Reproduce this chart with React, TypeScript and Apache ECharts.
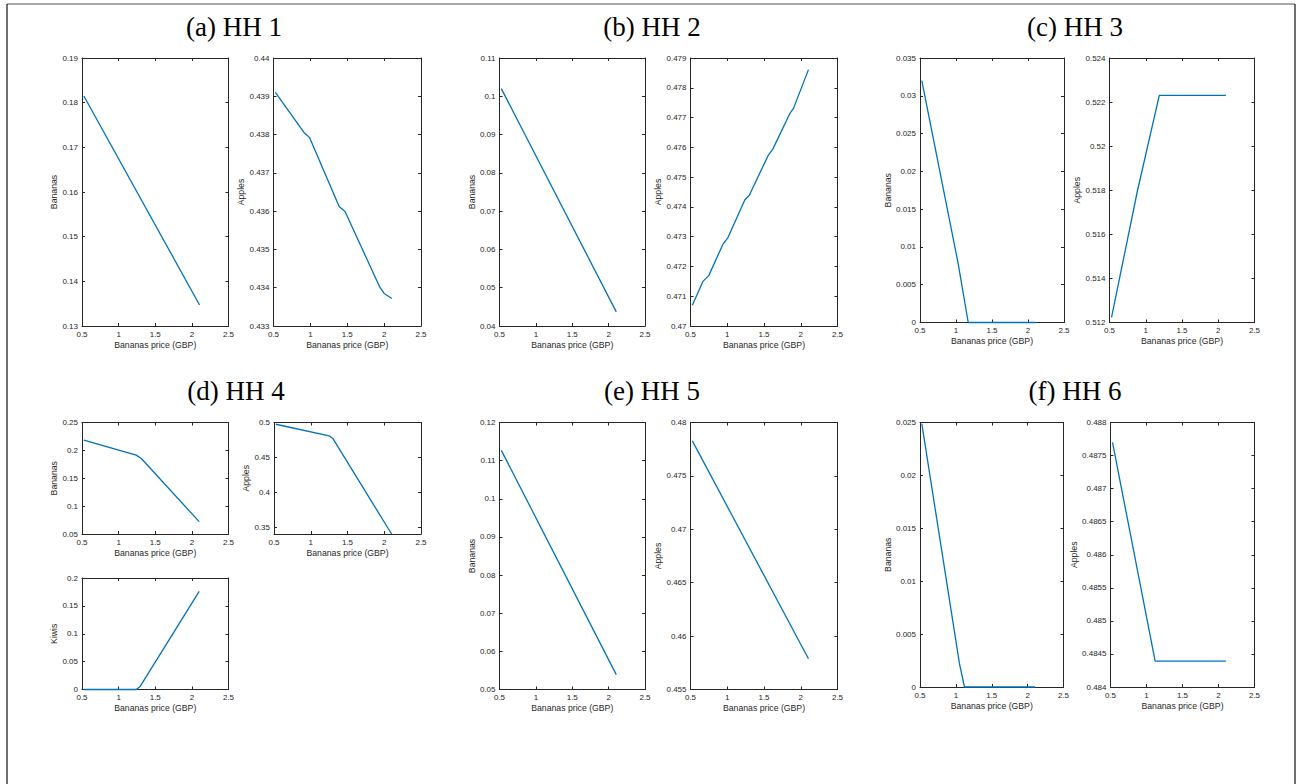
import React, { useEffect, useRef } from "react";
import * as echarts from "echarts";

// ---------- data ----------
const PRICE_TICKS = [0.5, 1, 1.5, 2, 2.5];
const X_LABEL = "Bananas price (GBP)";

// HH 1
const hh1BananasPrice = [0.525, 2.105];
const hh1Bananas = [0.1815, 0.1347];
const hh1ApplesPrice = [0.525, 0.92, 0.99, 1.39, 1.47, 1.94, 2.0, 2.105];
const hh1Apples = [0.4391, 0.43804, 0.43792, 0.43612, 0.43599, 0.43402, 0.43385, 0.43372];
const hh1BananasTicks = [0.13, 0.14, 0.15, 0.16, 0.17, 0.18, 0.19];
const hh1ApplesTicks = [0.433, 0.434, 0.435, 0.436, 0.437, 0.438, 0.439, 0.44];

// HH 2
const hh2BananasPrice = [0.525, 2.105];
const hh2Bananas = [0.102, 0.0437];
const hh2ApplesPrice = [0.525, 0.67, 0.75, 0.94, 1.01, 1.24, 1.3, 1.56, 1.62, 1.85, 1.9, 2.105];
const hh2Apples = [0.4707, 0.4715, 0.4717, 0.47274, 0.47297, 0.47424, 0.47439, 0.47574, 0.47594, 0.47713, 0.4773, 0.47861];
const hh2BananasTicks = [0.04, 0.05, 0.06, 0.07, 0.08, 0.09, 0.1, 0.11];
const hh2ApplesTicks = [0.47, 0.471, 0.472, 0.473, 0.474, 0.475, 0.476, 0.477, 0.478, 0.479];

// HH 3
const hh3BananasPrice = [0.525, 1.03, 1.17, 2.105];
const hh3Bananas = [0.032, 0.0078, 0, 0];
const hh3ApplesPrice = [0.528, 0.887, 1.187, 2.105];
const hh3Apples = [0.51223, 0.518, 0.5223, 0.5223];
const hh3BananasTicks = [0, 0.005, 0.01, 0.015, 0.02, 0.025, 0.03, 0.035];
const hh3ApplesTicks = [0.512, 0.514, 0.516, 0.518, 0.52, 0.522, 0.524];

// HH 4
const hh4BananasPrice = [0.525, 1.24, 1.31, 2.1];
const hh4Bananas = [0.2182, 0.1915, 0.1855, 0.0721];
const hh4ApplesPrice = [0.525, 1.25, 1.3, 2.1];
const hh4Apples = [0.4975, 0.4809, 0.4771, 0.34];
const hh4KiwisPrice = [0.525, 1.24, 1.29, 2.1];
const hh4Kiwis = [0, 0, 0.0048, 0.176];
const hh4BananasTicks = [0.05, 0.1, 0.15, 0.2, 0.25];
const hh4ApplesTicks = [0.35, 0.4, 0.45, 0.5];
const hh4ApplesRange = [0.34, 0.5];
const hh4KiwisTicks = [0, 0.05, 0.1, 0.15, 0.2];

// HH 5
const hh5BananasPrice = [0.525, 2.105];
const hh5Bananas = [0.1127, 0.0539];
const hh5ApplesPrice = [0.525, 2.105];
const hh5Apples = [0.47828, 0.45788];
const hh5BananasTicks = [0.05, 0.06, 0.07, 0.08, 0.09, 0.1, 0.11, 0.12];
const hh5ApplesTicks = [0.455, 0.46, 0.465, 0.47, 0.475, 0.48];

// HH 6
const hh6BananasPrice = [0.525, 1.05, 1.12, 2.105];
const hh6Bananas = [0.0249, 0.0022, 0, 0];
const hh6ApplesPrice = [0.528, 1.12, 2.102];
const hh6Apples = [0.4877, 0.48439, 0.48439];
const hh6BananasTicks = [0, 0.005, 0.01, 0.015, 0.02, 0.025];
const hh6ApplesTicks = [0.484, 0.4845, 0.485, 0.4855, 0.486, 0.4865, 0.487, 0.4875, 0.488];

const TITLES = ["(a) HH 1", "(b) HH 2", "(c) HH 3", "(d) HH 4", "(e) HH 5", "(f) HH 6"];

// ---------- layout ----------
type Panel = {
  rect: [number, number, number, number]; // left, top, right, bottom
  yName: string;
  yGap: number;
  px: number[];
  py: number[];
  ticks: number[];
  range?: number[];
};

const panels: Panel[] = [
  { rect: [82, 58, 228.5, 326], yName: "Bananas", yGap: 22.5, px: hh1BananasPrice, py: hh1Bananas, ticks: hh1BananasTicks },
  { rect: [273.5, 58, 421, 326], yName: "Apples", yGap: 24.5, px: hh1ApplesPrice, py: hh1Apples, ticks: hh1ApplesTicks },
  { rect: [499.5, 58, 645, 326], yName: "Bananas", yGap: 23, px: hh2BananasPrice, py: hh2Bananas, ticks: hh2BananasTicks },
  { rect: [690.5, 58, 837.5, 326], yName: "Apples", yGap: 25.5, px: hh2ApplesPrice, py: hh2Apples, ticks: hh2ApplesTicks },
  { rect: [920, 58, 1064, 322.5], yName: "Bananas", yGap: 25.5, px: hh3BananasPrice, py: hh3Bananas, ticks: hh3BananasTicks },
  { rect: [1109.5, 58, 1254.5, 322.5], yName: "Apples", yGap: 25.2, px: hh3ApplesPrice, py: hh3Apples, ticks: hh3ApplesTicks },
  { rect: [82, 422.5, 228.5, 534], yName: "Bananas", yGap: 21.5, px: hh4BananasPrice, py: hh4Bananas, ticks: hh4BananasTicks },
  { rect: [274, 422.5, 421, 534], yName: "Apples", yGap: 20.5, px: hh4ApplesPrice, py: hh4Apples, ticks: hh4ApplesTicks, range: hh4ApplesRange },
  { rect: [82, 578, 228.5, 689.5], yName: "Kiwis", yGap: 21.5, px: hh4KiwisPrice, py: hh4Kiwis, ticks: hh4KiwisTicks },
  { rect: [499.5, 422.5, 645, 689.5], yName: "Bananas", yGap: 22, px: hh5BananasPrice, py: hh5Bananas, ticks: hh5BananasTicks },
  { rect: [690.5, 422.5, 837.5, 689.5], yName: "Apples", yGap: 25.2, px: hh5ApplesPrice, py: hh5Apples, ticks: hh5ApplesTicks },
  { rect: [920, 422.5, 1063.5, 687], yName: "Bananas", yGap: 25.5, px: hh6BananasPrice, py: hh6Bananas, ticks: hh6BananasTicks },
  { rect: [1110.5, 422.5, 1254.5, 687], yName: "Apples", yGap: 29.8, px: hh6ApplesPrice, py: hh6Apples, ticks: hh6ApplesTicks },
];

const titlePos: [number, number][] = [
  [234, 27], [652, 27], [1075, 27],
  [236, 391], [652, 391], [1075, 391],
];

const SANS = "'Liberation Sans', Arial, Helvetica, sans-serif";
const AX = "#262626";
const LINE = "#0072BD";
const fmt = (v: number) => String(+Number(v).toFixed(6));

function buildOption() {
  const grid: any[] = [];
  const xAxis: any[] = [];
  const yAxis: any[] = [];
  const series: any[] = [];
  panels.forEach((p, i) => {
    const [l, t, r, b] = p.rect;
    grid.push({ left: l, top: t, width: r - l, height: b - t, containLabel: false });
    const ymin = p.range ? p.range[0] : p.ticks[0];
    const ymax = p.range ? p.range[1] : p.ticks[p.ticks.length - 1];
    const tick = (vals: number[]) => ({ show: true, inside: true, length: 3, customValues: vals, lineStyle: { color: AX, width: 1 } });
    const axLine = { show: true, onZero: false, lineStyle: { color: AX, width: 1 } };
    xAxis.push({
      type: "value", gridIndex: i, position: "bottom", min: 0.5, max: 2.5, z: 1,
      axisLine: axLine, axisTick: tick(PRICE_TICKS), splitLine: { show: false },
      axisLabel: { customValues: PRICE_TICKS, formatter: fmt, fontSize: 8, color: AX, fontFamily: SANS, margin: 4 },
      name: X_LABEL, nameLocation: "middle", nameGap: 14,
      nameTextStyle: { fontSize: 8.7, color: AX, fontFamily: SANS },
    });
    xAxis.push({
      type: "value", gridIndex: i, position: "top", min: 0.5, max: 2.5, z: 1,
      axisLine: axLine, axisTick: tick(PRICE_TICKS), splitLine: { show: false }, axisLabel: { show: false },
    });
    yAxis.push({
      type: "value", gridIndex: i, position: "left", min: ymin, max: ymax, z: 1,
      axisLine: axLine, axisTick: tick(p.ticks), splitLine: { show: false },
      axisLabel: { customValues: p.ticks, formatter: fmt, fontSize: 8, color: AX, fontFamily: SANS, margin: 4 },
      name: p.yName, nameLocation: "middle", nameGap: p.yGap, nameRotate: 90,
      nameTextStyle: { fontSize: 8.7, color: AX, fontFamily: SANS },
    });
    yAxis.push({
      type: "value", gridIndex: i, position: "right", min: ymin, max: ymax, z: 1,
      axisLine: axLine, axisTick: tick(p.ticks), splitLine: { show: false }, axisLabel: { show: false },
    });
    series.push({
      type: "line", xAxisIndex: 2 * i, yAxisIndex: 2 * i, z: 20,
      data: p.px.map((x, k) => [x, p.py[k]]),
      showSymbol: false, symbol: "none", silent: true, clip: false,
      lineStyle: { color: LINE, width: 1.3 },
    });
  });

  const graphic: any[] = [
    { type: "line", shape: { x1: 7, y1: 4, x2: 1295, y2: 4 }, style: { stroke: "#8a8a8a", lineWidth: 1.5 } },
    { type: "line", shape: { x1: 7, y1: 4, x2: 7, y2: 790 }, style: { stroke: "#111", lineWidth: 1.2 } },
    { type: "line", shape: { x1: 1295, y1: 4, x2: 1295, y2: 790 }, style: { stroke: "#111", lineWidth: 1.2 } },
  ];
  TITLES.forEach((txt, i) => {
    graphic.push({
      type: "text", x: titlePos[i][0], y: titlePos[i][1],
      style: { text: txt, fontSize: 27, fontFamily: "'Liberation Serif', 'Times New Roman', serif", fill: "#000", align: "center", verticalAlign: "middle" },
    });
  });

  return { animation: false, backgroundColor: "#fff", grid, xAxis, yAxis, series, graphic };
}

export default function App() {
  const ref = useRef<HTMLDivElement>(null);
  useEffect(() => {
    if (!ref.current) return;
    const chart = echarts.init(ref.current, undefined, { renderer: "svg" });
    chart.setOption(buildOption() as any);
    return () => chart.dispose();
  }, []);
  return <div ref={ref} style={{ position: "fixed", left: 0, top: 0, width: 1297, height: 784, background: "#fff" }} />;
}
